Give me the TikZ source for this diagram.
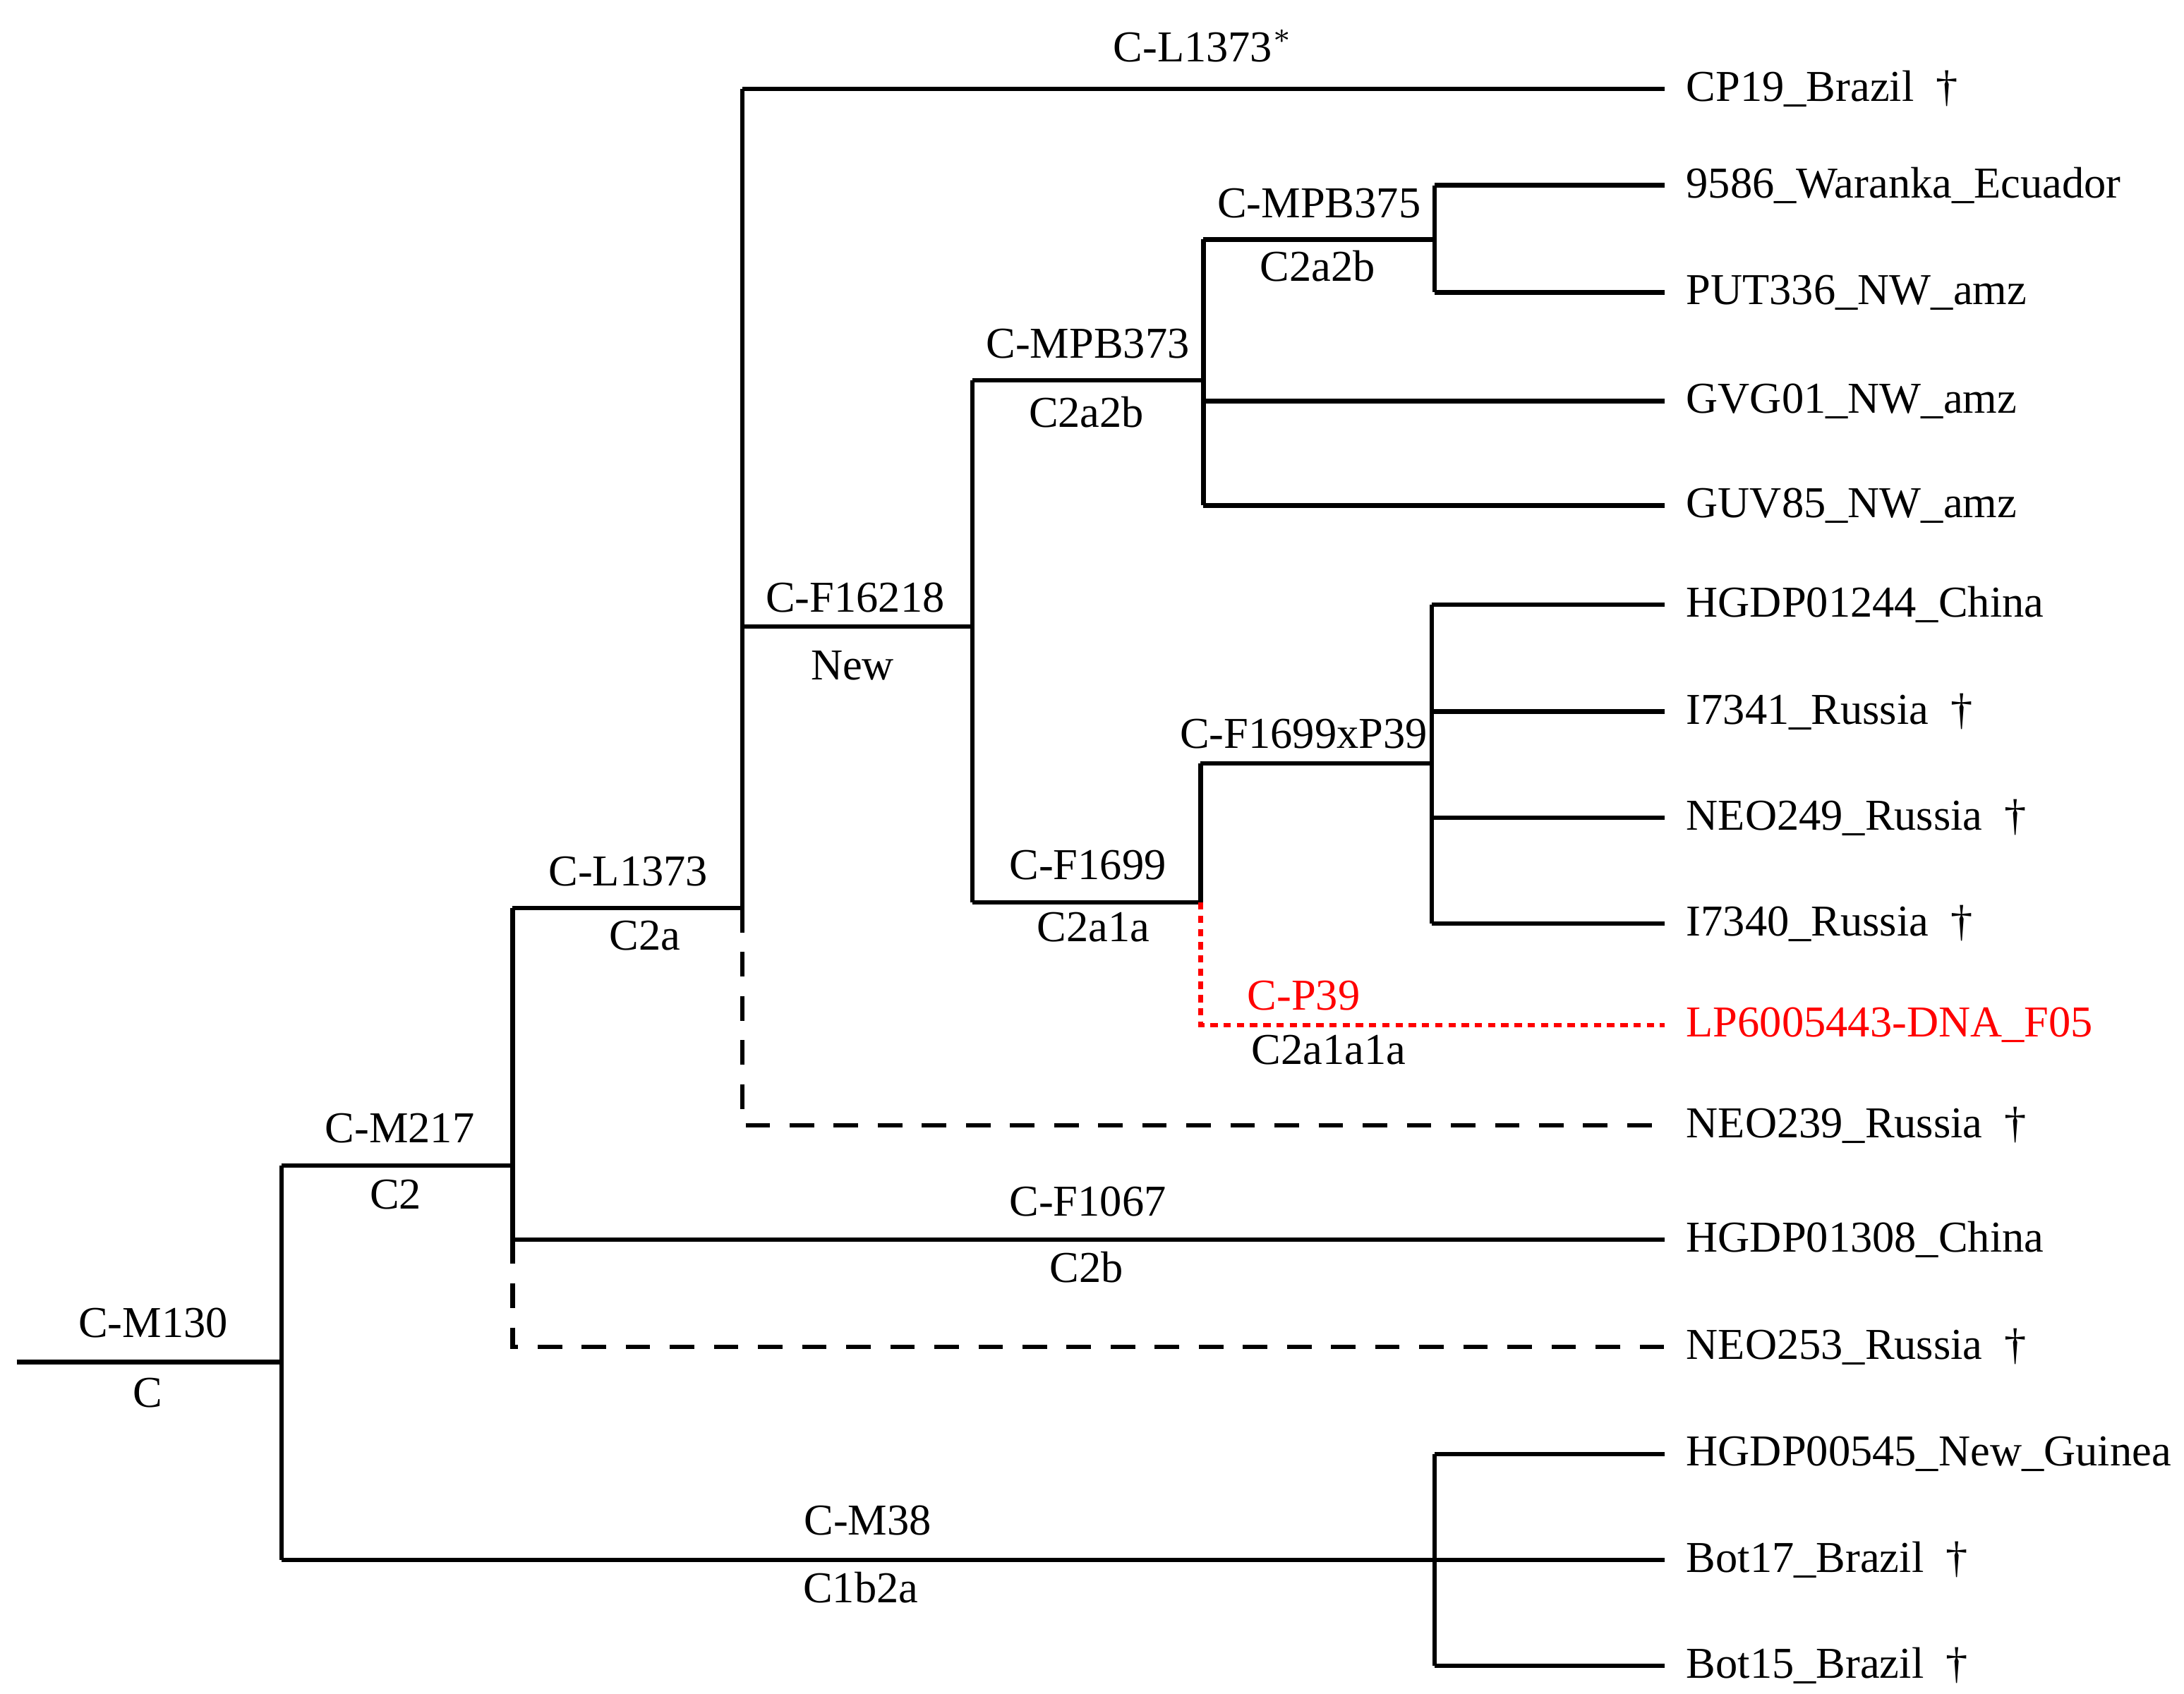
\documentclass[tikz,border=0pt]{standalone}
\usepackage{amssymb}
\usepackage{color}
\usepackage{fontspec}
\setmainfont{Liberation Serif}
\begin{document}
\begin{tikzpicture}[x=0.01cm,y=-0.01cm,
  br/.style={line width=0.9pt},
  dsh/.style={br, dash pattern=on 5pt off 4pt},
  red dot/.style={line width=0.9pt, red, dash pattern=on 1.5pt off 1.2pt},
  leaf/.style={anchor=west, inner sep=0pt, font=\fontsize{9}{11}\selectfont},
  lab/.style={inner sep=0pt, font=\fontsize{9}{11}\selectfont}]
\useasboundingbox (0,0) rectangle (1568,1216);
% branch points
\coordinate (root) at (12,978);
\coordinate (a) at (202,978);
\coordinate (b) at (368,837);
\coordinate (c) at (533,652);
\coordinate (d) at (698,450);
\coordinate (e) at (864,273);
\coordinate (f) at (1030,172);
\coordinate (g) at (862,648);
\coordinate (h) at (1028,548);
\coordinate (k) at (1030,1120);
% leaves
\node (CP19) at (1210,64) [leaf] {CP19\_Brazil\enspace\dag};
\node (W9586) at (1210,133) [leaf] {9586\_Waranka\_Ecuador};
\node (PUT336) at (1210,210) [leaf] {PUT336\_NW\_amz};
\node (GVG01) at (1210,288) [leaf] {GVG01\_NW\_amz};
\node (GUV85) at (1210,363) [leaf] {GUV85\_NW\_amz};
\node (HG1244) at (1210,434) [leaf] {HGDP01244\_China};
\node (I7341) at (1210,511) [leaf] {I7341\_Russia\enspace\dag};
\node (NEO249) at (1210,587) [leaf] {NEO249\_Russia\enspace\dag};
\node (I7340) at (1210,663) [leaf] {I7340\_Russia\enspace\dag};
\node (LP) at (1210,736) [leaf, text=red] {LP6005443-DNA\_F05};
\node (NEO239) at (1210,808) [leaf] {NEO239\_Russia\enspace\dag};
\node (HG1308) at (1210,890) [leaf] {HGDP01308\_China};
\node (NEO253) at (1210,967) [leaf] {NEO253\_Russia\enspace\dag};
\node (HG545) at (1210,1044) [leaf] {HGDP00545\_New\_Guinea};
\node (Bot17) at (1210,1120) [leaf] {Bot17\_Brazil\enspace\dag};
\node (Bot15) at (1210,1196) [leaf] {Bot15\_Brazil\enspace\dag};
% tree
\draw[br] (root) -- (a);
\draw[br] (a |- b) -- (a |- k);
\draw[br] (a |- b) -- (b);
\draw[br] (a |- k) -- (k);
\draw[br] (b |- c) -- (b |- HG1308);
\draw[dsh] (b |- HG1308) -- (b |- NEO253) -- ([xshift=-0.15cm]NEO253.west);
\draw[br] (b |- HG1308) -- ([xshift=-0.15cm]HG1308.west);
\draw[br] (b |- c) -- (c);
\draw[br] (c |- CP19) -- (c);
\draw[dsh] (c) -- (c |- NEO239) -- ([xshift=-0.15cm]NEO239.west);
\draw[br] (c |- CP19) -- ([xshift=-0.15cm]CP19.west);
\draw[br] (c |- d) -- (d);
\draw[br] (d |- e) -- (d |- g);
\draw[br] (d |- e) -- (e);
\draw[br] (d |- g) -- (g);
\draw[br] (e |- f) -- (e |- GUV85);
\draw[br] (e |- f) -- (f);
\draw[br] (e |- GVG01) -- ([xshift=-0.15cm]GVG01.west);
\draw[br] (e |- GUV85) -- ([xshift=-0.15cm]GUV85.west);
\draw[br] (f |- W9586) -- (f |- PUT336);
\draw[br] (f |- W9586) -- ([xshift=-0.15cm]W9586.west);
\draw[br] (f |- PUT336) -- ([xshift=-0.15cm]PUT336.west);
\draw[br] (g |- h) -- (g);
\draw[br] (g |- h) -- (h);
\draw[red dot] (g) -- (g |- LP) -- ([xshift=-0.15cm]LP.west);
\draw[br] (h |- HG1244) -- (h |- I7340);
\foreach \n in {HG1244,I7341,NEO249,I7340}
  \draw[br] (h |- \n) -- ([xshift=-0.15cm]\n.west);
\draw[br] (k |- HG545) -- (k |- Bot15);
\foreach \n in {HG545,Bot17,Bot15}
  \draw[br] (k |- \n) -- ([xshift=-0.15cm]\n.west);
% labels
\node (lM130) at (110,950) [lab] {C-M130};
\node (lC) at (106,1000) [lab] {C};
\node (lM217) at (287,810) [lab] {C-M217};
\node (lC2) at (284,858) [lab] {C2};
\node (lL1373) at (451,626) [lab] {C-L1373};
\node (lC2a) at (463,672) [lab] {C2a};
\node (lL1373s) at (864,33) [lab] {C-L1373$^{*}$};
\node (lF16218) at (614,429) [lab] {C-F16218};
\node (lNew) at (612,478) [lab] {New};
\node (lMPB373) at (781,247) [lab] {C-MPB373};
\node (lC2a2b) at (780,296) [lab] {C2a2b};
\node (lMPB375) at (947,146) [lab] {C-MPB375};
\node (lC2a2bb) at (946,191) [lab] {C2a2b};
\node (lF1699) at (781,621) [lab] {C-F1699};
\node (lC2a1a) at (785,666) [lab] {C2a1a};
\node (lF1699xP39) at (936,527) [lab] {C-F1699xP39};
\node (lP39) at (936,715) [lab, text=red] {C-P39};
\node (lC2a1a1a) at (954,754) [lab] {C2a1a1a};
\node (lF1067) at (781,863) [lab] {C-F1067};
\node (lC2b) at (780,910) [lab] {C2b};
\node (lM38) at (623,1092) [lab] {C-M38};
\node (lC1b2a) at (618,1140) [lab] {C1b2a};
\end{tikzpicture}
\end{document}
